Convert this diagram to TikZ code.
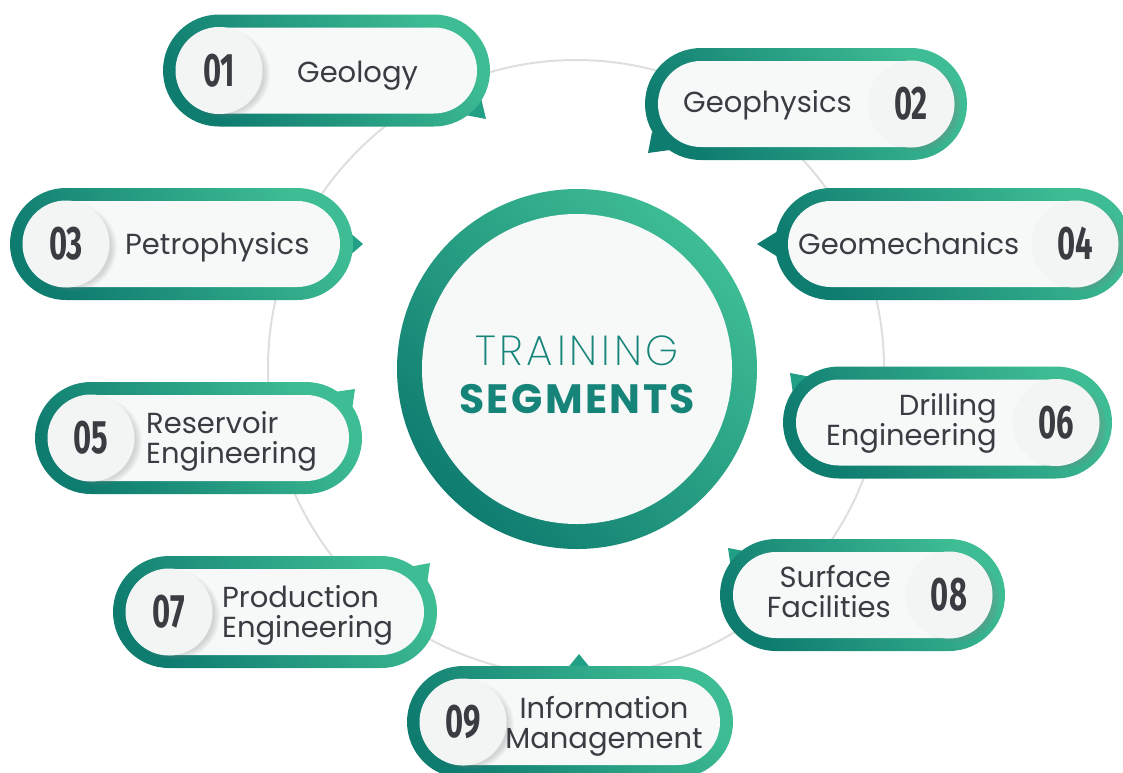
\documentclass[tikz,border=0pt]{standalone}
\usepackage{fontspec}
\setmainfont{Poppins}
\newfontfamily\numfont{Fira Sans}[FakeStretch=0.66]
\IfFontExistsTF{Poppins ExtraLight}{\newfontfamily\thinfont{Poppins ExtraLight}[LetterSpace=9]}{\IfFontExistsTF{Poppins Light}{\newfontfamily\thinfont{Poppins Light}[LetterSpace=9]}{\newfontfamily\thinfont{Poppins}[LetterSpace=9]}}
\newfontfamily\headfont{Poppins}[LetterSpace=6]
\usetikzlibrary{shapes.misc,shadows}
\definecolor{tealdark}{HTML}{0F7C70}
\definecolor{teallight}{HTML}{3EBD94}
\definecolor{tealmid}{HTML}{22A085}
\definecolor{tealtext}{HTML}{168479}
\definecolor{pillwhite}{HTML}{F7F9F9}
\definecolor{discwhite}{HTML}{F3F5F5}
\definecolor{ringgray}{HTML}{DEDEDE}
\definecolor{inkgray}{HTML}{3B3C42}
\begin{document}
\begin{tikzpicture}[x=1pt,y=-1pt]

\tikzstyle{band} = [rounded rectangle,minimum height=112pt,inner sep=0,outer sep=0,top color=teallight,bottom color=tealdark,shading angle=-50]
\tikzstyle{face} = [rounded rectangle,minimum height=86pt,inner sep=0,outer sep=0,fill=pillwhite]
\tikzstyle{disc} = [circle,minimum size=87pt,inner sep=0,fill=discwhite,circular drop shadow={shadow xshift=6pt,shadow yshift=-3pt,opacity=0.3,shadow scale=1.03},font=\numfont\bfseries\fontsize{47}{47}\selectfont,text=inkgray]
\tikzstyle{caption} = [inner sep=0,align=left,font=\fontsize{29}{30}\selectfont,text=inkgray]
\tikzstyle{tail} = [fill=tealmid]

\useasboundingbox (0,0) rectangle (1123,772);
\draw[ringgray,line width=2pt] (576,368) circle[radius=308];

\node[circle,minimum size=360pt,inner sep=0,top color=teallight,bottom color=tealdark,shading angle=-45] (hub) at (577,369) {};
\node[circle,minimum size=310pt,inner sep=0,fill=pillwhite] (hubface) at (hub) {};
\node[anchor=base,inner sep=0,font=\thinfont\fontsize{42}{42}\selectfont,text=tealtext] (title) at (577,365) {TRAINING};
\node[anchor=base,inner sep=0,font=\headfont\bfseries\fontsize{41}{41}\selectfont,text=tealtext] (subtitle) at (577,413) {SEGMENTS};

\fill[tail] (486,119) -- (465,115) -- (481,98) -- cycle;
\node[band,minimum width=327pt] (band1) at (326.5,70.5) {};
\node[face,minimum width=301pt] (face1) at (band1) {};
\node[disc] (num1) at (219,70.5) {01};
\node[caption,anchor=base west] (lab1) at (297,82) {Geology};

\fill[tail,fill=tealdark] (648,153) -- (652,132) -- (670,150) -- cycle;
\node[band,minimum width=322pt] (band2) at (806,104) {};
\node[face,minimum width=296pt] (face2) at (band2) {};
\node[disc] (num2) at (911,104) {02};
\node[caption,anchor=base west] (lab2) at (683,112) {Geophysics};

\fill[tail] (363,244) -- (348,231) -- (348,257) -- cycle;
\node[band,minimum width=343pt] (band3) at (181.5,244) {};
\node[face,minimum width=317pt] (face3) at (band3) {};
\node[disc] (num3) at (66,244) {03};
\node[caption,anchor=base west] (lab3) at (125,254) {Petrophysics};

\fill[tail,fill=tealdark] (757,244) -- (778,231) -- (778,257) -- cycle;
\node[band,minimum width=356pt] (band4) at (953,244) {};
\node[face,minimum width=330pt] (face4) at (band4) {};
\node[disc] (num4) at (1075,244) {04};
\node[caption,anchor=base west] (lab4) at (798,254) {Geomechanics};

\fill[tail,fill=teallight] (355,389) -- (334,392) -- (352,410) -- cycle;
\node[band,minimum width=327pt] (band5) at (198.5,438) {};
\node[face,minimum width=301pt] (face5) at (band5) {};
\node[disc] (num5) at (91,438) {05};
\node[caption,anchor=base west] (lab5) at (146,463) {Reservoir\\Engineering};

\fill[tail] (790,373) -- (811,377) -- (793,394) -- cycle;
\node[band,minimum width=329pt] (band6) at (947.5,422.5) {};
\node[face,minimum width=303pt] (face6) at (band6) {};
\node[disc] (num6) at (1056,422.5) {06};
\node[caption,anchor=base east,align=right] (lab6) at (997,445) {Drilling\\Engineering};

\fill[tail,fill=teallight] (430,563) -- (409,567) -- (427,584) -- cycle;
\node[band,minimum width=324pt] (band7) at (275,612) {};
\node[face,minimum width=298pt] (face7) at (band7) {};
\node[disc] (num7) at (169,612) {07};
\node[caption,anchor=base west] (lab7) at (222,637) {Production\\Engineering};

\fill[tail] (728,548) -- (749,552) -- (731,569) -- cycle;
\node[band,minimum width=285pt] (band8) at (862.5,595) {};
\node[face,minimum width=259pt] (face8) at (band8) {};
\node[disc] (num8) at (949,595) {08};
\node[caption,anchor=base east,align=right] (lab8) at (891,617) {Surface\\Facilities};

\fill[tail] (579,654) -- (566,670) -- (592,670) -- cycle;
\node[band,minimum width=326pt] (band9) at (570,722) {};
\node[face,minimum width=300pt] (face9) at (band9) {};
\node[disc] (num9) at (463,722) {09};
\node[caption,anchor=base,align=center] (lab9) at (604,748) {Information\\Management};
\end{tikzpicture}
\end{document}
